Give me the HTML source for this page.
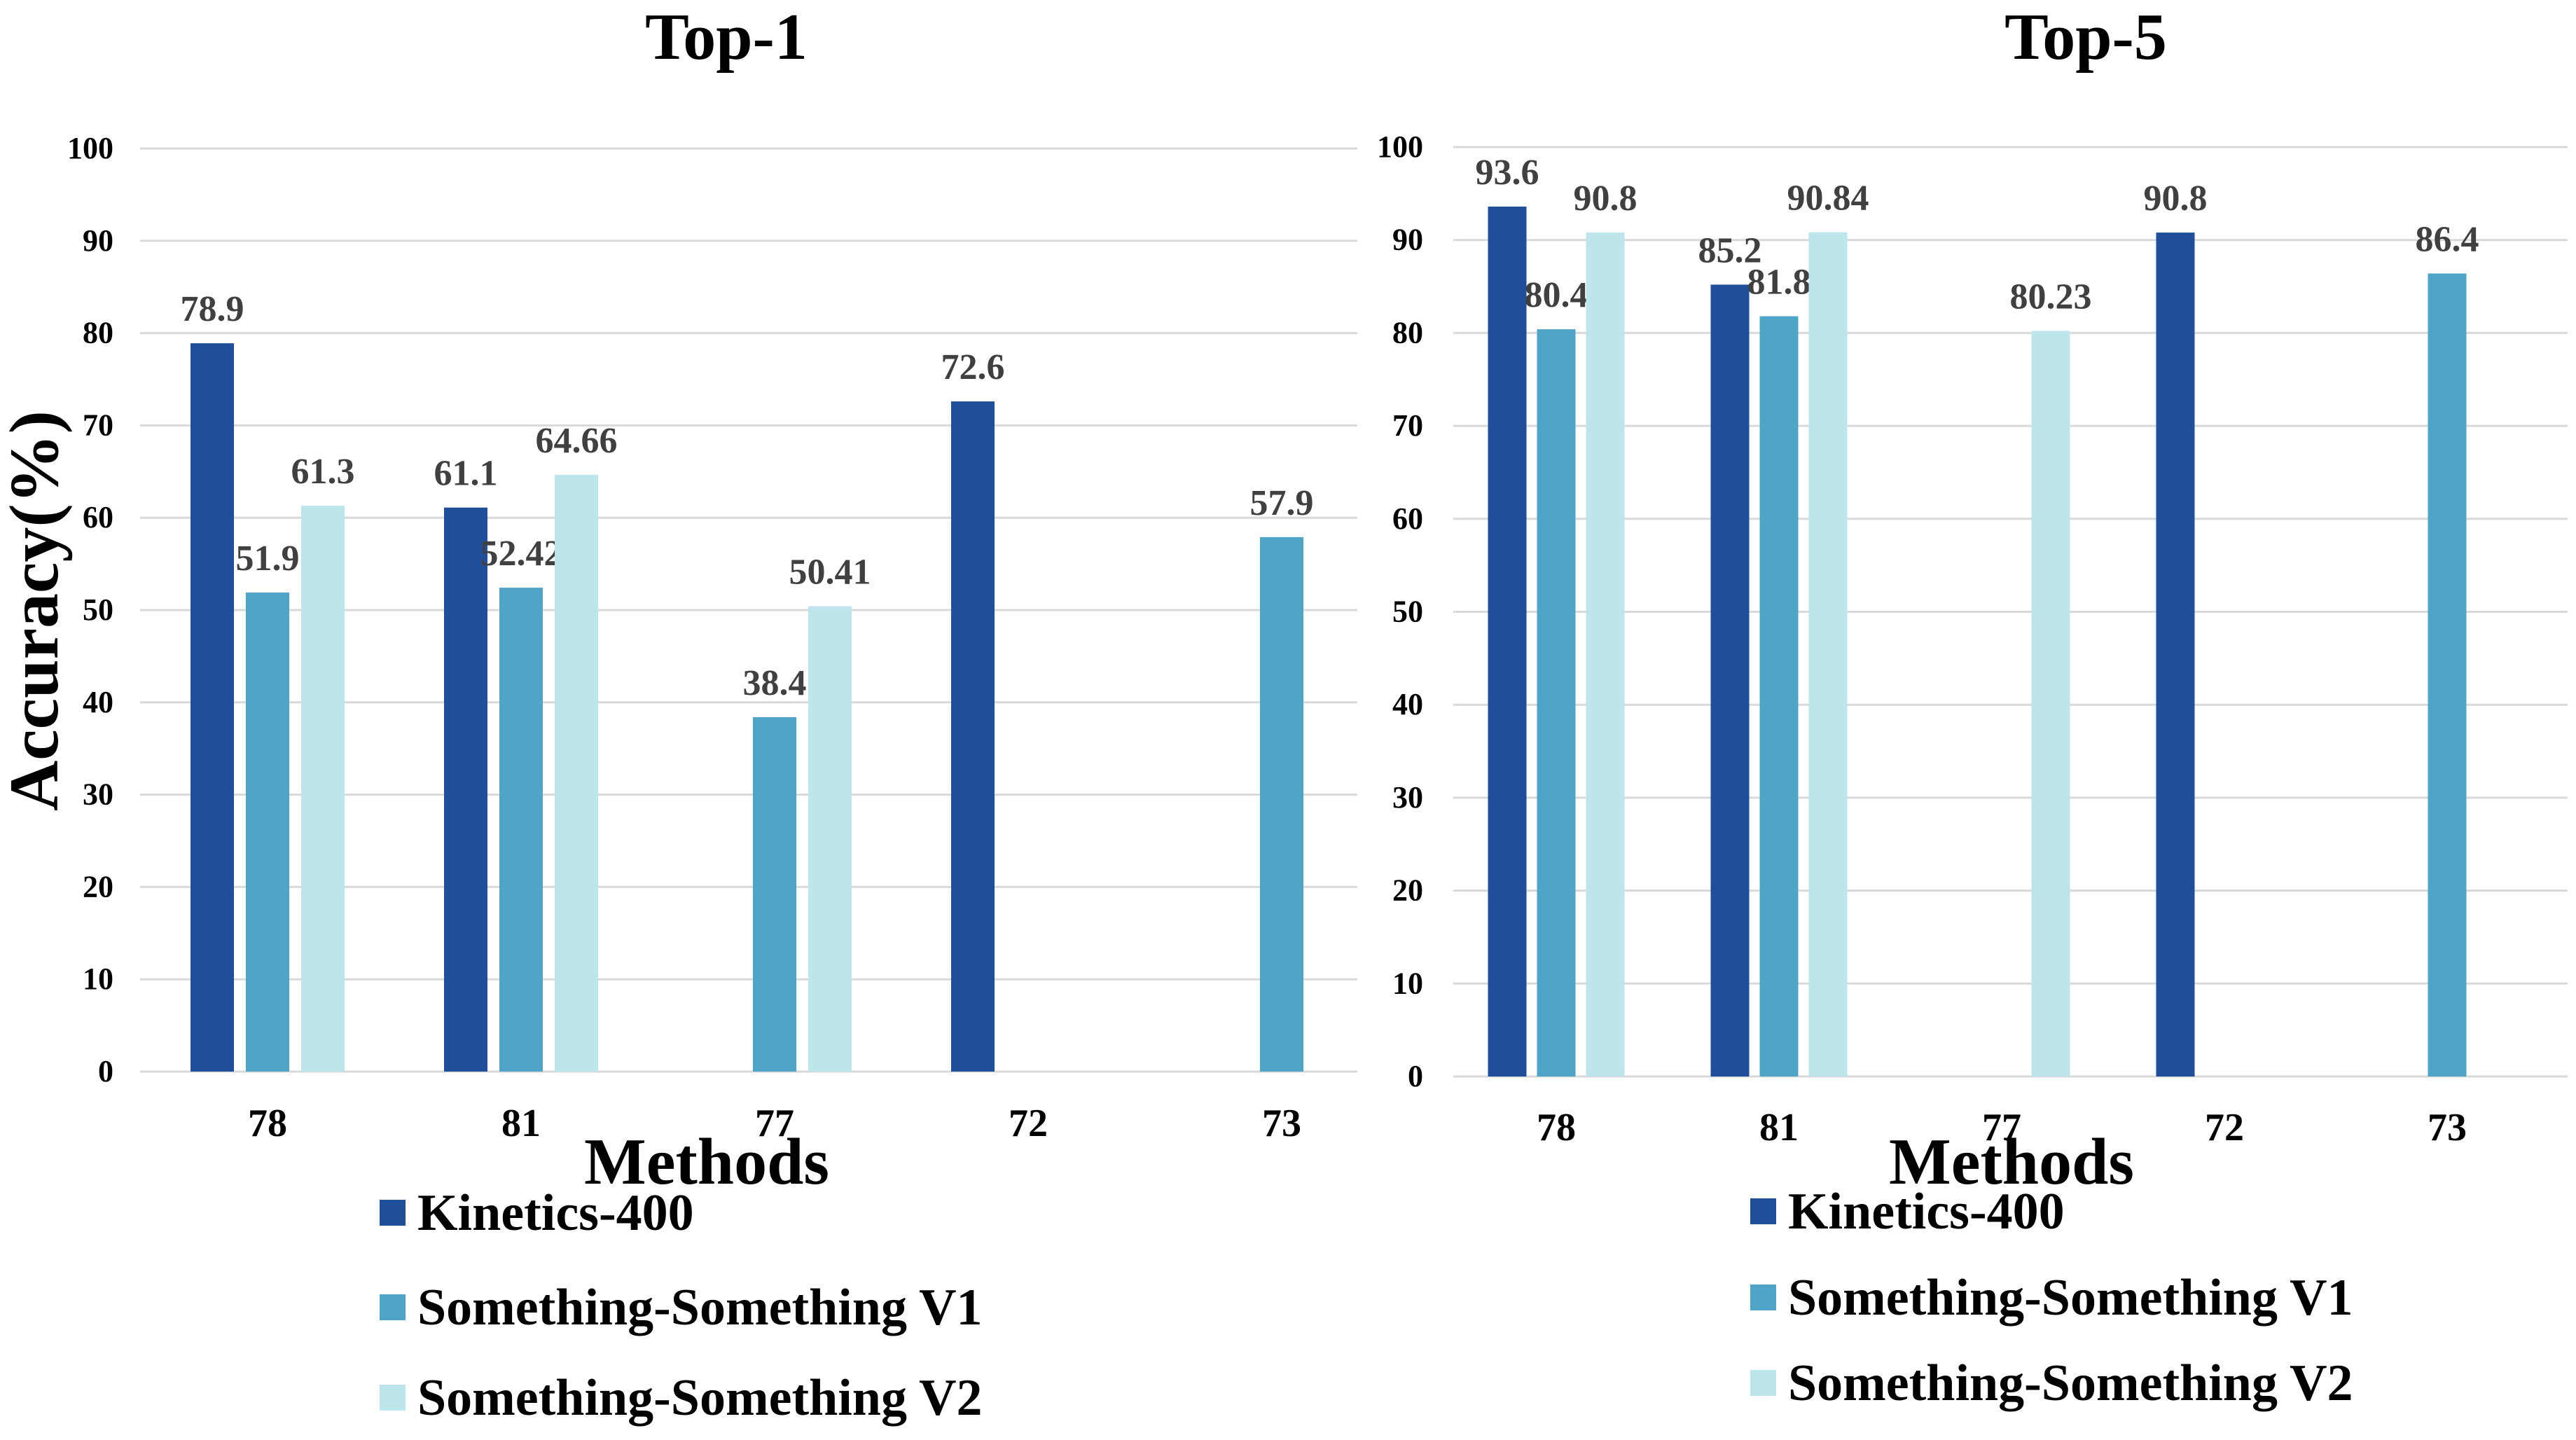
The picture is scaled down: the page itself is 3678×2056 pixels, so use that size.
<!DOCTYPE html>
<html><head><meta charset="utf-8"><style>
html,body{margin:0;padding:0;background:#fff;}
svg{display:block;font-family:"Liberation Serif",serif;font-weight:bold;}
</style></head><body>
<svg id="c" width="3678" height="2056" viewBox="0 0 3678 2056" xmlns="http://www.w3.org/2000/svg"></svg>
<script>
const categories = ["78","81","77","72","73"];
const seriesNames = ["Kinetics-400","Something-Something V1","Something-Something V2"];
const top1K400 = [78.9, 61.1, null, 72.6, null];
const top1V1 = [51.9, 52.42, 38.4, null, 57.9];
const top1V2 = [61.3, 64.66, 50.41, null, null];
const top5K400 = [93.6, 85.2, null, 90.8, null];
const top5V1 = [80.4, 81.8, null, null, 86.4];
const top5V2 = [90.8, 90.84, 80.23, null, null];
const yTicks = [0,10,20,30,40,50,60,70,80,90,100];
const colors = ["#1f4e9a","#4fa5c8","#bde6ec"];

const svg = document.getElementById('c');
const NS = "http://www.w3.org/2000/svg";
function mk(tag, attrs, parent){
  const e = document.createElementNS(NS, tag);
  for (const k in attrs) e.setAttribute(k, attrs[k]);
  (parent||svg).appendChild(e);
  return e;
}
function txt(s, attrs, parent){ const t = mk('text', attrs, parent); t.textContent = s; return t; }

function drawChart(cfg){
  const g = mk('g', {});
  
  
  const y = v => cfg.y0 - (v/100)*(cfg.y0 - cfg.y100);
  const xc = i => cfg.c0 + i*cfg.band;
  yTicks.forEach(t => {
    const l = mk('line', {x1:cfg.gx0, x2:cfg.gx1, y1:y(t), y2:y(t), stroke:'#d9d9d9', 'stroke-width':3}, g);
    
    
    const tl = txt(String(t), {x:cfg.tickX, y:y(t)+14, 'text-anchor':'end', 'font-size':44, fill:'#000'}, g);
    
    
  });
  categories.forEach((c,i) => {
    const cl = txt(c, {x:xc(i), y:cfg.catY, 'text-anchor':'middle', 'font-size':56, fill:'#000'}, g);
    
    
  });
  cfg.series.forEach((arr, s) => {
    arr.forEach((v,i) => {
      if (v === null) return;
      const cx = xc(i) + (s-1)*cfg.step;
      const r = mk('rect', {x:cx-cfg.bw/2, y:y(v), width:cfg.bw, height:y(0)-y(v), fill:colors[s]}, g);
      
      
      const dl = txt(String(v), {x:cx, y:y(v)-32, 'text-anchor':'middle', 'font-size':52, fill:'#404040'}, g);
      
      
    });
  });
  const tt = txt(cfg.title, {x:cfg.titleX, y:84, 'text-anchor':'middle', 'font-size':94, fill:'#000'}, g);
  
  
  const mt = txt('Methods', {x:cfg.methX, y:1690, 'text-anchor':'middle', 'font-size':94, fill:'#000'}, g);
  
  
  seriesNames.forEach((n,s) => {
    const ry = cfg.legY[s];
    const sq = mk('rect', {x:cfg.legX, y:ry-19, width:37, height:37, fill:colors[s]}, g);
    
    
    const lt = txt(n, {x:cfg.legX+54, y:ry+24, 'font-size':74, fill:'#000'}, g);
    
    
  });
}

drawChart({name:'top1-chart', title:'Top-1', titleX:1037, methX:1009,
  y0:1530, y100:212, gx0:200, gx1:1938, tickX:162, c0:382, band:362, step:79, bw:62, catY:1622,
  series:[top1K400, top1V1, top1V2], legX:542, legY:[1732,1867,1996]});
drawChart({name:'top5-chart', title:'Top-5', titleX:2978, methX:2872,
  y0:1537, y100:210, gx0:2075, gx1:3666, tickX:2032, c0:2222, band:318, step:70, bw:55, catY:1628,
  series:[top5K400, top5V1, top5V2], legX:2499, legY:[1730,1853,1975]});

const yt = txt('Accuracy(%)', {x:0, y:0, transform:'translate(82,872) rotate(-90)', 'text-anchor':'middle', 'font-size':100, fill:'#000'});


</script>
</body></html>
